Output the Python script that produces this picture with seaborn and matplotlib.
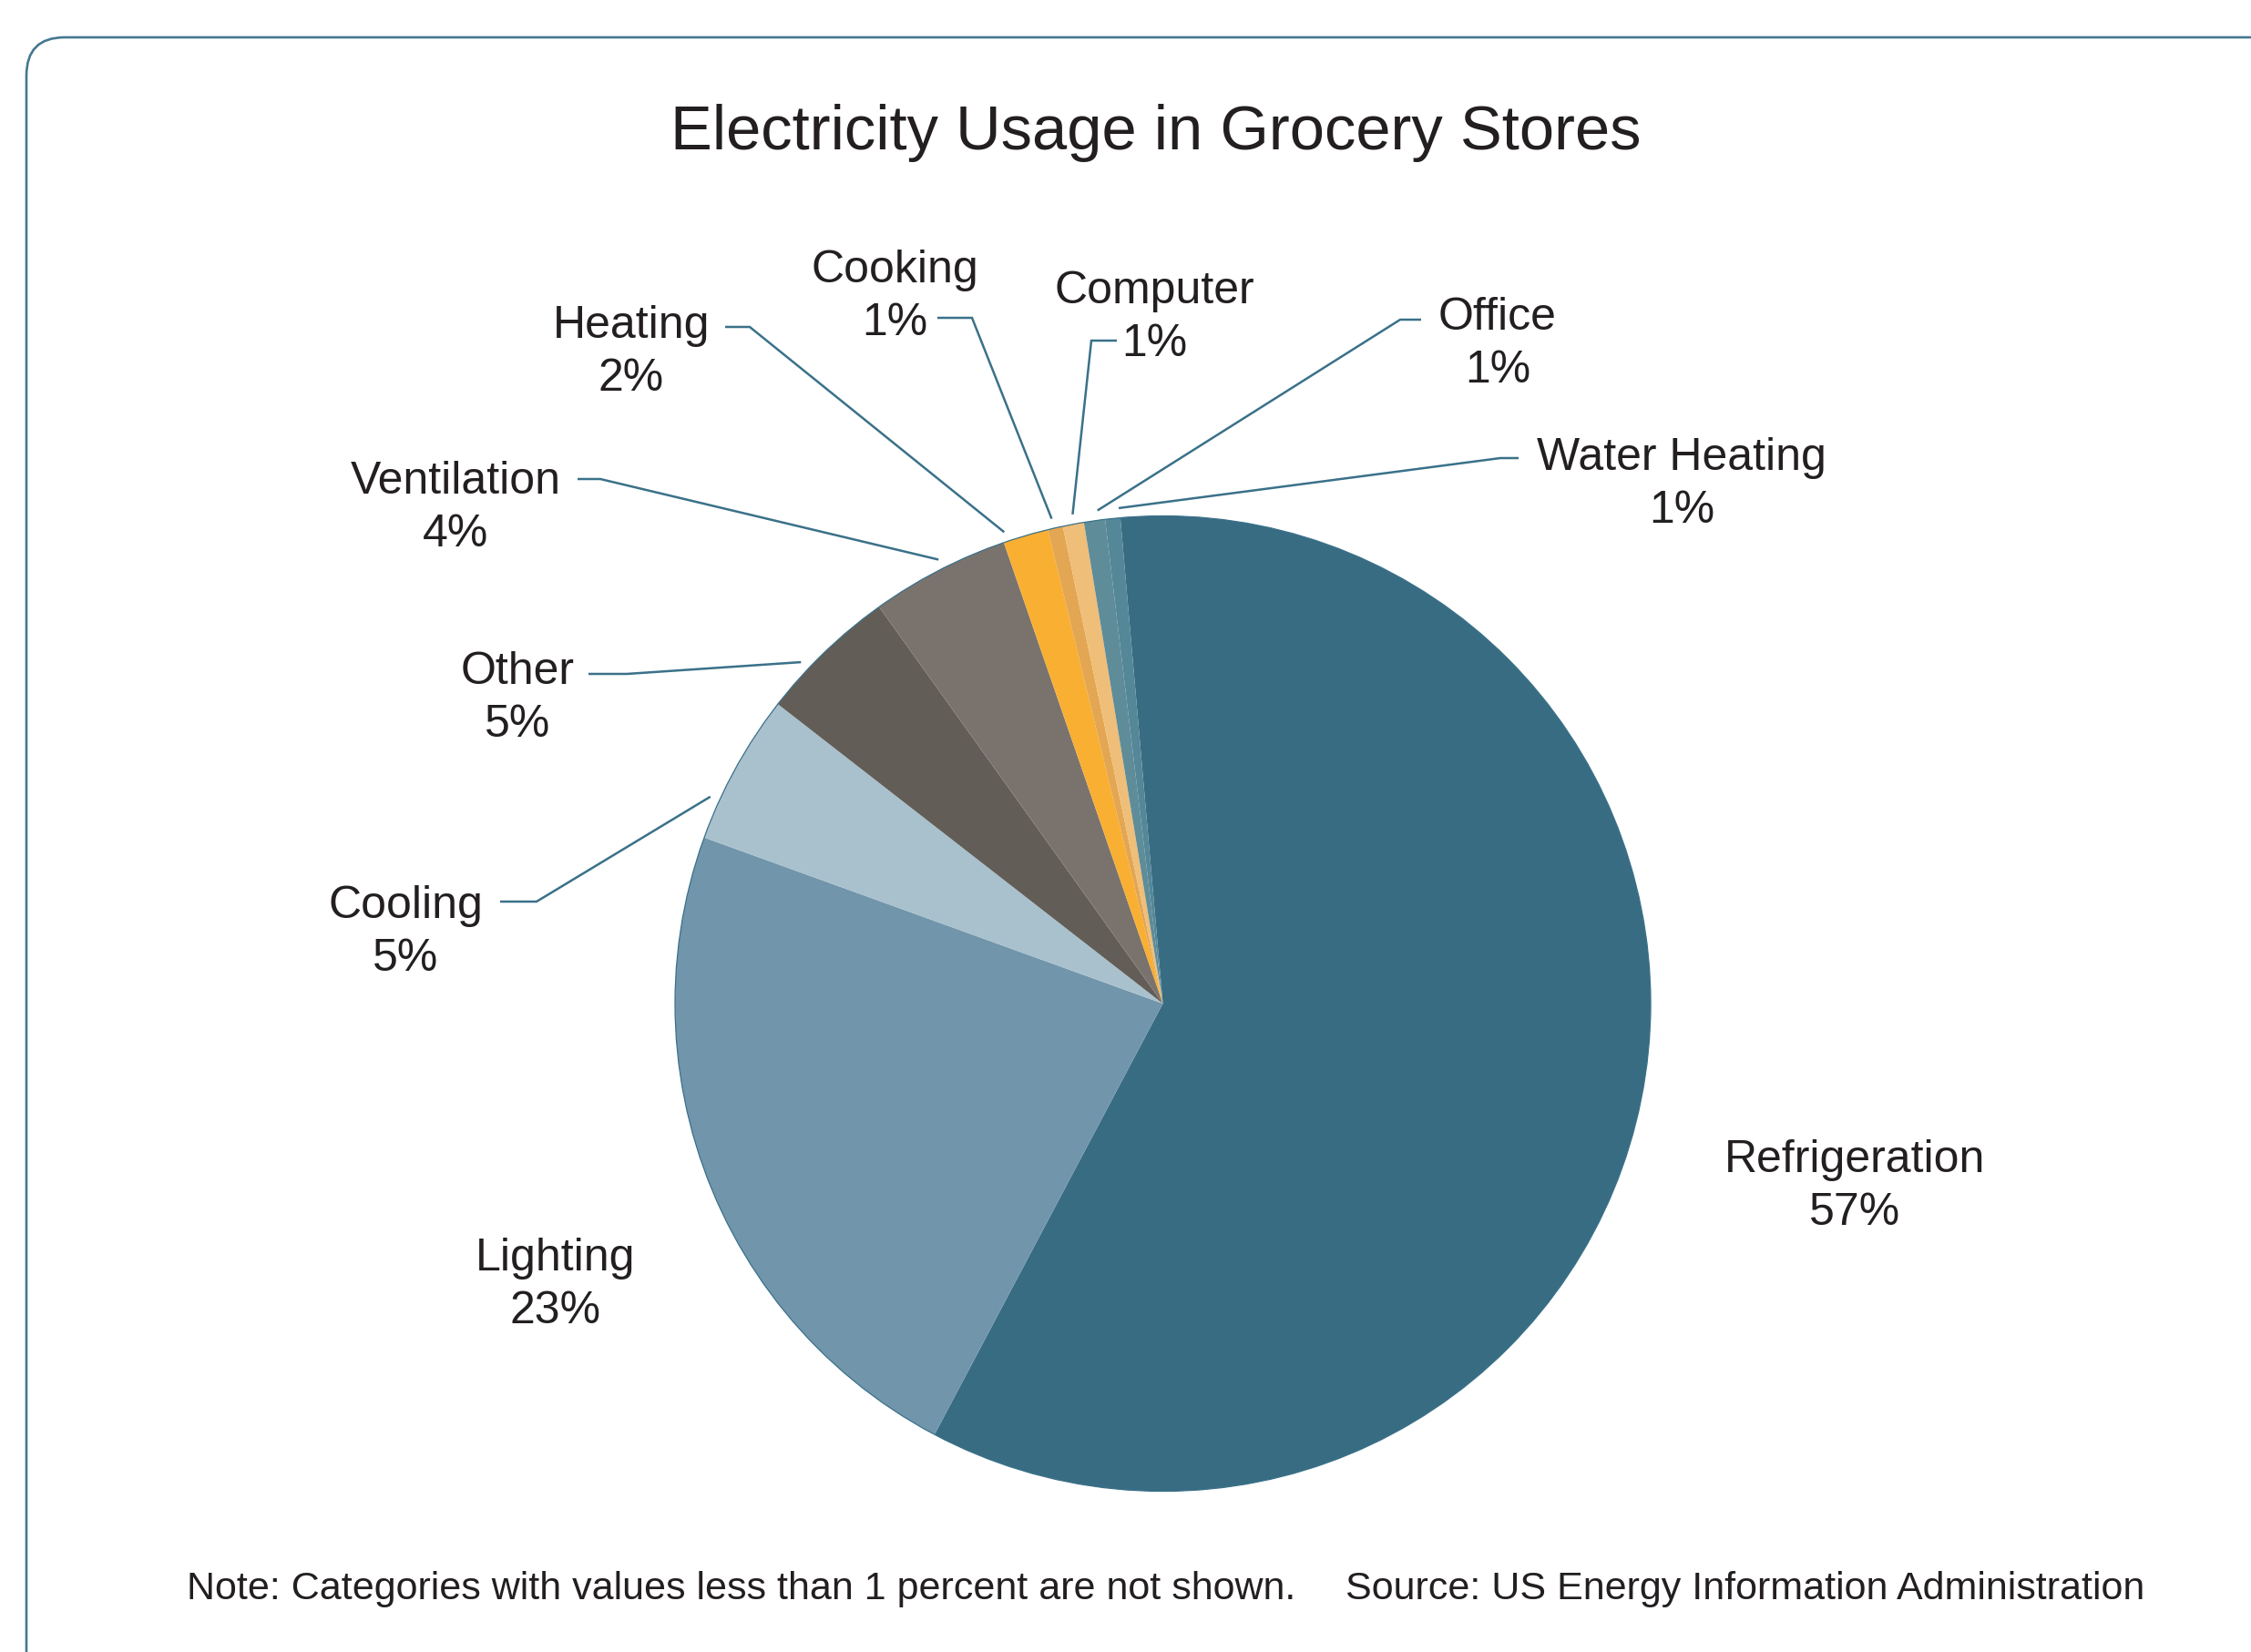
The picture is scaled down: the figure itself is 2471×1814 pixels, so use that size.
import numpy as np
import matplotlib
matplotlib.use("Agg")
import matplotlib.pyplot as plt
from matplotlib.patches import FancyBboxPatch, Circle
import seaborn as sns

# ------- DATA (slice shares) ------------------------------------
categories = ["Refrigeration", "Lighting", "Cooling", "Other", "Ventilation",
              "Heating", "Cooking", "Computer", "Office", "Water Heating"]
shares = [59.2, 22.8, 5.0, 4.6, 4.6, 1.5, 0.5, 0.7, 0.7, 0.5]
pct_labels = ["57%", "23%", "5%", "5%", "4%", "2%", "1%", "1%", "1%", "1%"]
slice_colors = ["#386c82", "#7195ab", "#a9c1cd", "#625d57", "#7a736d",
                "#f9af32", "#e3a652", "#efbe78", "#5f8c99", "#548798"]

title = "Electricity Usage in Grocery Stores"
note = "Note: Categories with values less than 1 percent are not shown."
source = "Source: US Energy Information Administration"

# ------- LAYOUT (pixels, origin top-left) ---------
W, H = 2471, 1815
CX, CY, R = 1276.5, 1103, 535.5   # pie centre and radius on the canvas
LINE_GAP = 58                     # baseline distance name -> percent
TEXT = "#231f20"
TEAL = "#3a7189"

# label centre x, name baseline y, leader (text end, elbow, position along wedge)
label_layout = {
    "Refrigeration": (2036, 1287, None),
    "Lighting": (610, 1395, None),
    "Cooling": (445, 1008, ((549, 991), (589, 991), 0.26)),
    "Other": (568, 751, ((646, 741), (688, 741), 0.33)),
    "Ventilation": (500, 542, ((634, 527), (659, 527), 0.53)),
    "Heating": (693, 371, ((796, 360), (823, 360), 0.08)),
    "Cooking": (982, 310, ((1029, 350), (1067, 350), 0.4)),
    "Computer": (1267, 333, ((1226, 375), (1198, 375), 0.55)),
    "Office": (1644, 362, ((1560, 352), (1537, 352), 0.7)),
    "Water Heating": (1846, 516, ((1667, 504), (1647, 504), 0.95)),
}


def to_data(px, py):
    return (px - CX) / R, (CY - py) / R


def to_fig(px, py):
    return px / W, 1 - py / H


sns.set_theme(style="white")
plt.rcParams['font.family'] = ['Liberation Sans', 'DejaVu Sans']

fig = plt.figure(figsize=(W / 100, H / 100), dpi=100)
fig.patch.set_facecolor("white")
ax = fig.add_axes([0, 0, 1, 1])

palette = sns.color_palette(slice_colors)
wedges, _ = ax.pie(shares, colors=palette, startangle=95, counterclock=False,
                   radius=1, center=(0, 0), wedgeprops=dict(linewidth=0))
ax.add_patch(Circle((0, 0), 1, fill=False, ec=TEAL, lw=0.9))

ax.set_xlim(-CX / R, (W - CX) / R)
ax.set_ylim(-(H - CY) / R, CY / R)
ax.axis("off")

# ------- LABELS + LEADER LINES ---------
for wedge, name, pct in zip(wedges, categories, pct_labels):
    cx, base, leader = label_layout[name]
    fig.text(*to_fig(cx, base), name, ha="center", va="baseline",
             fontsize=36, color=TEXT)
    fig.text(*to_fig(cx, base + LINE_GAP), pct, ha="center", va="baseline",
             fontsize=36, color=TEXT)
    if leader is None:
        continue
    p0, p1, t = leader
    ang = np.deg2rad(wedge.theta2 - t * (wedge.theta2 - wedge.theta1))
    tip = (1.02 * np.cos(ang), 1.02 * np.sin(ang))
    d0, d1 = to_data(*p0), to_data(*p1)
    ax.plot([d0[0], d1[0], tip[0]], [d0[1], d1[1], tip[1]],
            color=TEAL, lw=1.8, solid_capstyle="butt", solid_joinstyle="miter")

# ------- TITLE / FOOTER ---------
fig.text(*to_fig(1269, 164), title, ha="center", va="baseline",
         fontsize=49.5, color=TEXT)
fig.text(*to_fig(205, 1756), note, ha="left", va="baseline",
         fontsize=31, color=TEXT)
fig.text(*to_fig(1477, 1756), source, ha="left", va="baseline",
         fontsize=31, color=TEXT)

# rounded frame, open to the right and bottom
frame = FancyBboxPatch((29, -200), 2800, H - 42 + 200,
                       boxstyle="round,pad=0,rounding_size=42",
                       fill=False, ec="#45788f", lw=1.9, transform=None)
fig.add_artist(frame)

fig.savefig("out.png", dpi=100)
plt.close(fig)
